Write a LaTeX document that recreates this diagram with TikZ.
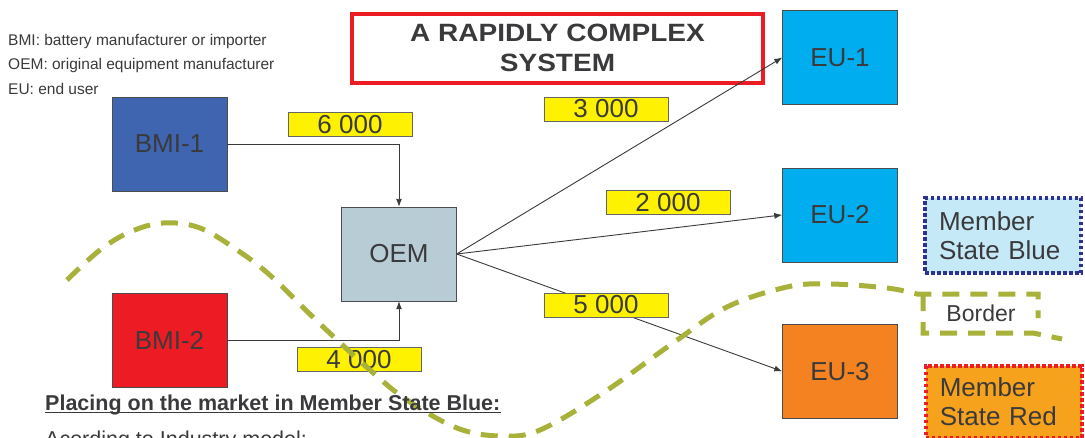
\documentclass[tikz,border=0pt]{standalone}
\usepackage{fontspec}
\setmainfont{Liberation Sans}
\newfontfamily\widesans[FakeStretch=1.12]{Liberation Sans}
\usetikzlibrary{positioning,arrows.meta}
\definecolor{txt}{RGB}{58,58,60}
\definecolor{bmiblue}{RGB}{63,101,176}
\definecolor{bmired}{RGB}{237,28,36}
\definecolor{oemgrey}{RGB}{184,204,214}
\definecolor{eucyan}{RGB}{0,174,239}
\definecolor{euorange}{RGB}{244,130,32}
\definecolor{qtyyellow}{RGB}{255,242,0}
\definecolor{msblue}{RGB}{198,233,248}
\definecolor{msblueline}{RGB}{46,49,146}
\definecolor{msred}{RGB}{247,162,28}
\definecolor{borderolive}{RGB}{168,177,58}
\begin{document}
\begin{tikzpicture}[x=1pt,y=-1pt,
  box/.style={draw=black!70,minimum width=115pt,minimum height=94pt,font=\fontsize{26}{28}\selectfont,text=txt},
  qty/.style={draw=black!60,fill=qtyyellow,minimum width=124pt,minimum height=24pt,inner sep=0pt,font=\fontsize{26}{26}\selectfont,text=txt},
  flow/.style={draw=txt,line width=0.9pt,-{Latex[length=8pt,width=6pt]}},
  wave/.style={draw=borderolive,line width=5pt,dash pattern=on 17pt off 11pt},
  legend/.style={anchor=west,inner sep=0pt,font=\fontsize{15.5}{17}\selectfont,text=txt},
  ms/.style={text width=128pt,inner xsep=14pt,line width=3.5pt,dash pattern=on 3.5pt off 2.5pt,align=left,font=\fontsize{26}{29}\selectfont,text=txt}]
  \clip (0,0) rectangle (1085,437);
  \node[legend](l1) at (8,41) {BMI: battery manufacturer or importer};
  \node[legend](l2) at (8,65) {OEM: original equipment manufacturer};
  \node[legend](l3) at (8,89) {EU: end user};
  \node[draw=bmired,line width=4pt,minimum width=411pt,minimum height=69pt,align=center,
        font=\widesans\bfseries\fontsize{25}{30}\selectfont,text=txt](title) at (557.5,48) {A RAPIDLY COMPLEX\\SYSTEM};
  \node[box,fill=bmiblue](bmi1) at (169.5,144) {BMI-1};
  \node[box,fill=bmired](bmi2)[below=102pt of bmi1] {BMI-2};
  \node[box,fill=oemgrey](oem) at (399,254) {OEM};
  \node[box,fill=eucyan](eu1) at (840,57.5) {EU-1};
  \node[box,fill=eucyan](eu2)[below=63pt of eu1] {EU-2};
  \node[box,fill=euorange](eu3)[below=62pt of eu2] {EU-3};
  \draw[flow](bmi1.east) -| (oem.north);
  \draw[flow](bmi2.east) -| (oem.south);
  \draw[flow](oem.east) -- (eu1.west);
  \draw[flow](oem.east) -- (eu2.west);
  \draw[flow](oem.east) -- (eu3.west);
  \node[qty](q6) at (350,124.5) {6 000};
  \node[qty](q3) at (606,109) {3 000};
  \node[qty](q2) at (668,202.5) {2 000};
  \node[qty](q5) at (606,305) {5 000};
  \node[qty](q4) at (359,359.5) {4 000};
  \node[ms,draw=msblueline,fill=msblue,minimum height=75pt](msb) at (1003,235.5) {Member\\State Blue};
  \node[ms,draw=bmired,fill=msred,anchor=north west,inner ysep=12pt](msr) at (924,364) {Member\\State Red};
  % border between the two member states
  \draw[wave] plot[smooth,tension=0.6] coordinates {(67,280) (100,250) (130,232) (163,223) (200,228) (240,252)
      (272,277) (318,322) (370,370) (407,400) (457,428) (500,436) (540,430) (603,393) (673,343)
      (727,307) (787,287) (830,284) (887,288) (917,294)} -- (1038,294) -- (1038,318);
  \draw[wave](923,294) -- (923,333) -- (1033,333) -- (1062,339);
  \node[font=\fontsize{23}{23}\selectfont,text=txt](brd) at (981,313) {Border};
  \node[anchor=base west,inner sep=0pt,font=\bfseries\fontsize{21.5}{24}\selectfont,text=txt](place) at (45,410)
      {Placing on the market in Member State Blue:};
  \draw[txt,line width=1.8pt]([yshift=-2.5pt]place.base west) -- ([yshift=-2.5pt]place.base east);
  \node[anchor=base west,inner sep=0pt,font=\fontsize{21.5}{24}\selectfont,text=txt](model) at (45,446)
      {Acording to Industry model:};
\end{tikzpicture}
\end{document}
